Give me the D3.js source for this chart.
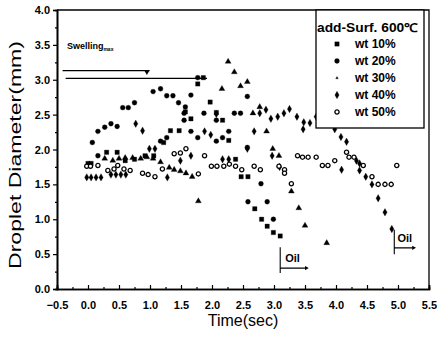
<!DOCTYPE html>
<html>
<head>
<meta charset="utf-8">
<script src="https://cdn.jsdelivr.net/npm/d3@7"></script>
<style>
body{margin:0;background:#fff;}
svg text{font-family:"Liberation Sans",Arial,sans-serif;fill:#000;}
</style>
</head>
<body>
<svg id="chart" width="437" height="340"></svg>
<script>
// data : time (sec), droplet diameter (mm)
var seriesNames = ["wt 10%", "wt 20%", "wt 30%", "wt 40%", "wt 50%"];

var wt10 = [[0.00,1.80],[0.05,1.80],[0.30,1.96],[0.47,1.96],[0.60,1.84],[0.75,1.86],[0.92,1.91],[1.06,1.91],
    [1.22,2.10],[1.33,2.27],[1.47,2.27],[1.57,2.54],[1.66,2.44],[1.77,2.94],[1.86,3.03],[1.97,2.68],[2.07,2.53],
    [2.17,2.42],[2.27,2.13],[2.38,1.86],[2.47,1.61],[2.58,1.61],[2.69,1.15],[2.80,1.00],[2.89,0.90],[2.99,0.81],[3.10,0.76]];

var wt20 = [[0.07,2.10],[0.16,2.26],[0.16,1.91],[0.27,2.32],[0.37,2.37],[0.47,2.33],[0.56,2.60],[0.65,2.60],
    [0.75,2.67],[1.05,2.83],[1.17,2.87],[1.17,2.12],[1.27,2.77],[1.27,2.17],[1.37,2.77],[1.46,2.67],[1.55,2.42],
    [1.55,2.52],[1.57,2.61],[1.66,2.78],[1.66,2.26],[1.77,3.03],[1.77,2.17],[1.87,2.52],[2.07,2.42],[2.07,2.12],
    [2.17,2.17],[2.27,2.26],[2.36,2.52],[2.46,2.52],[2.57,2.76],[2.57,2.03],[2.58,1.25],[2.79,1.51],[2.89,1.25],[2.99,1.00]];

var wt30 = [[0.27,1.87],[0.40,1.84],[0.50,1.87],[0.60,1.88],[0.72,1.88],[0.85,1.87],[0.95,1.89],[1.05,1.87],
    [1.17,1.82],[1.31,1.74],[1.39,1.71],[1.49,1.69],[1.58,1.66],[1.68,1.61],[1.78,1.26],[2.16,2.87],[2.26,3.26],
    [2.36,3.11],[2.46,2.91],[2.57,2.97],[2.66,2.52],[2.77,2.61],[2.88,2.26],[2.98,2.01],[3.08,1.91],[3.28,1.40],
    [3.40,1.16],[3.50,0.91],[3.85,0.66]];

var wt40 = [[-0.02,1.60],[0.05,1.60],[0.13,1.60],[0.21,1.60],[0.37,1.64],[0.45,1.64],[0.53,1.64],[0.61,1.64],
    [0.77,2.37],[0.88,2.27],[0.99,2.01],[1.08,2.01],[1.28,1.60],[1.49,1.84],[1.66,1.91],[1.88,2.26],[1.98,2.21],
    [2.07,2.51],[2.17,1.86],[2.27,1.86],[2.57,2.01],[2.68,2.26],[2.77,2.52],[2.87,2.57],[2.95,2.44],[2.97,1.91],
    [3.06,2.47],[3.09,1.75],[3.16,2.52],[3.25,2.58],[3.37,2.47],[3.47,2.29],[3.48,2.39],[3.58,2.38],[3.68,2.47],
    [3.98,2.29],[4.08,2.18],[4.09,1.71],[4.17,2.11],[4.33,1.84],[4.38,1.80],[4.38,1.70],[4.48,1.61],[4.58,1.50],
    [4.68,1.30],[4.79,1.10],[4.90,0.86]];

var wt50 = [[-0.02,1.76],[0.04,1.76],[0.16,1.77],[0.32,1.70],[0.42,1.72],[0.48,1.77],[0.58,1.72],[0.68,1.70],
    [0.88,1.66],[0.97,1.64],[1.08,1.61],[1.20,1.72],[1.39,1.94],[1.49,1.95],[1.58,2.01],[1.78,1.65],[1.88,1.91],
    [1.99,1.76],[2.08,1.76],[2.19,1.76],[2.28,1.79],[2.38,1.76],[2.48,1.71],[2.68,1.76],[2.78,1.71],[3.08,1.76],
    [3.17,1.71],[3.17,1.66],[3.28,1.51],[3.38,1.91],[3.46,1.89],[3.55,1.89],[3.68,1.89],[3.78,1.77],[3.87,1.77],
    [3.98,1.84],[4.17,1.96],[4.21,1.89],[4.29,1.89],[4.44,1.77],[4.58,1.61],[4.68,1.50],[4.79,1.50],[4.89,1.50],[4.98,1.77]];

var xTicks = [-0.5, 0, 0.5, 1, 1.5, 2, 2.5, 3, 3.5, 4, 4.5, 5, 5.5];
var yTicks = [0, 0.5, 1, 1.5, 2, 2.5, 3, 3.5, 4];

var svg = d3.select("#chart"),
    x = d3.scaleLinear().domain([-0.5, 5.5]).range([57, 429]),
    y = d3.scaleLinear().domain([0, 4]).range([289, 10]);

// symbol per series
var symbols = [
    {type: d3.symbolSquare, size: 19, fill: "#000"},
    {type: d3.symbolCircle, size: 19, fill: "#000"},
    {type: d3.symbolTriangle, size: 15, fill: "#000"},
    {type: d3.symbolDiamond, size: 16, fill: "#000"},
    {type: d3.symbolCircle, size: 14, fill: "#fff"}
];
var allSeries = [wt10, wt20, wt30, wt40, wt50];

// frame
svg.append("path")
    .attr("d", "M" + x(-0.5) + "," + y(4) + "H" + x(5.5) + "V" + y(0))
    .attr("fill", "none").attr("stroke", "#000").attr("stroke-width", 1.3);

// axes
svg.append("g")
    .attr("transform", "translate(" + x(-0.5) + ",0)")
    .call(d3.axisLeft(y).tickValues(yTicks).tickFormat(d3.format(".1f")).tickSize(4).tickPadding(3));
svg.append("g")
    .attr("transform", "translate(" + x(-0.5) + ",0)")
    .call(d3.axisLeft(y).tickValues(d3.range(0.25, 4, 0.5)).tickFormat("").tickSize(2));
svg.append("g")
    .attr("transform", "translate(0," + y(0) + ")")
    .call(d3.axisBottom(x).tickValues(xTicks).tickFormat(d3.format(".1f")).tickSize(-4).tickPadding(12));
svg.append("g")
    .attr("transform", "translate(0," + y(0) + ")")
    .call(d3.axisBottom(x).tickValues(d3.range(-0.25, 5.5, 0.5)).tickFormat("").tickSize(-2));

svg.selectAll(".domain").attr("stroke", "#000").attr("stroke-width", 1.6);
svg.selectAll(".tick line").attr("stroke", "#000").attr("stroke-width", 1.2);
svg.selectAll(".tick text")
    .style("font-family", "'Liberation Sans',Arial,sans-serif")
    .style("font-size", "11px").style("font-weight", "bold");

// axis titles
svg.append("text")
    .attr("transform", "translate(21,155) rotate(-90)")
    .attr("text-anchor", "middle")
    .attr("textLength", 228).attr("lengthAdjust", "spacingAndGlyphs")
    .style("font-size", "17px")
    .text("Droplet Diameter(mm)");
svg.append("text")
    .attr("x", x(2.5)).attr("y", 326)
    .attr("text-anchor", "middle")
    .style("font-size", "16px")
    .text("Time(sec)");

// points
allSeries.forEach(function (s, i) {
    var sym = symbols[i];
    svg.append("g").selectAll("path")
        .data(s)
        .enter().append("path")
        .attr("transform", function (d) { return "translate(" + x(d[0]) + "," + y(d[1]) + ")"; })
        .attr("d", d3.symbol().type(sym.type).size(sym.size))
        .attr("fill", sym.fill)
        .attr("stroke", "#000")
        .attr("stroke-width", i == 4 ? 1.3 : 0.3);
});

// swelling annotation
svg.append("text")
    .attr("x", x(-0.34)).attr("y", y(3.5) + 4)
    .style("font-size", "9px").style("font-weight", "bold")
    .text("Swelling")
    .append("tspan").attr("dy", 2).style("font-size", "5px").text("max");
svg.append("line")
    .attr("x1", x(-0.41)).attr("x2", x(0.99)).attr("y1", y(3.13)).attr("y2", y(3.13))
    .attr("stroke", "#000").attr("stroke-width", 1.2);
svg.append("path")
    .attr("transform", "translate(" + x(0.95) + "," + (y(3.13) + 1) + ") rotate(180)")
    .attr("d", d3.symbol().type(d3.symbolTriangle).size(14));
svg.append("line")
    .attr("x1", x(-0.36)).attr("x2", x(1.92)).attr("y1", y(3.02)).attr("y2", y(3.02))
    .attr("stroke", "#000").attr("stroke-width", 1.4);

// oil annotations
function oilMark(tx, yTop, yBot, yArr, tEnd, tText, yText) {
    svg.append("path")
        .attr("d", "M" + x(tx) + "," + y(yTop) + "V" + y(yBot) + "M" + x(tx) + "," + y(yArr) + "H" + x(tEnd))
        .attr("fill", "none").attr("stroke", "#000").attr("stroke-width", 1.1);
    svg.append("path")
        .attr("transform", "translate(" + x(tEnd) + "," + y(yArr) + ") rotate(90)")
        .attr("d", d3.symbol().type(d3.symbolTriangle).size(8));
    svg.append("text")
        .attr("x", x(tText)).attr("y", y(yText))
        .style("font-size", "11px").style("font-weight", "bold")
        .text("Oil");
}
oilMark(3.10, 0.60, 0.23, 0.30, 3.52, 3.18, 0.39);
oilMark(4.94, 0.85, 0.50, 0.59, 5.25, 4.99, 0.67);

// legend
var lg = svg.append("g");
lg.append("rect")
    .attr("x", 316).attr("y", 10).attr("width", 108).attr("height", 118)
    .attr("fill", "#fff").attr("stroke", "#000").attr("stroke-width", 1.3);
lg.append("text")
    .attr("x", 317).attr("y", 32)
    .attr("textLength", 101).attr("lengthAdjust", "spacingAndGlyphs")
    .style("font-size", "12px").style("font-weight", "bold")
    .text("add-Surf. 600\u2103");
seriesNames.forEach(function (n, i) {
    var sym = symbols[i],
        cy = 44 + i * 17;
    lg.append("path")
        .attr("transform", "translate(337," + cy + ")")
        .attr("d", d3.symbol().type(sym.type).size(i == 2 ? 3 : sym.size))
        .attr("fill", sym.fill)
        .attr("stroke", "#000")
        .attr("stroke-width", i == 4 ? 1.3 : 0.3);
    lg.append("text")
        .attr("x", 355).attr("y", cy + 4)
        .style("font-size", "12px").style("font-weight", "bold")
        .text(n);
});
</script>
</body>
</html>
